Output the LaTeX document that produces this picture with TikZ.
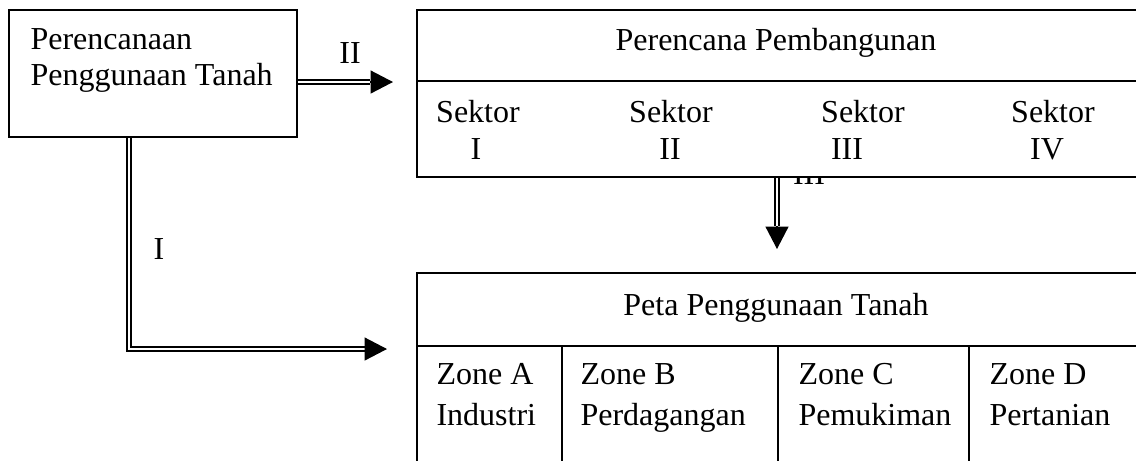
\documentclass[tikz,border=0pt]{standalone}
\usepackage{fontspec}
\setmainfont{Liberation Serif}
\usetikzlibrary{arrows.meta,fit,calc,backgrounds}
\begin{document}
\begin{tikzpicture}[x=0.375pt,y=-0.375pt,
  boxst/.style={draw, line width=0.75pt, fill=white, inner sep=0pt},
  txt/.style={inner sep=0pt, font=\fontsize{12}{14}\selectfont},
  dbl/.style={draw, double, line width=0.7pt, double distance=0.9pt},
  tipst/.style={-{Triangle[length=8.4pt,width=8.6pt]}, line width=0.5pt},
  rule/.style={line width=0.6pt}]
\useasboundingbox (0,0) rectangle (1136,460);
\clip (0,0) rectangle (1136,460);

% left box
\node[boxst, fit={(9,10) (297,137)}] (lb) {};
\node[txt, anchor=base west] (t1) at (30,49) {Perencanaan};
\node[txt, anchor=base west] (t2) at (30,85) {Penggunaan Tanah};

% top right box
\node[boxst, fit={(417,10) (1145,177)}] (pb) {};
\coordinate (pbd) at (417,81);
\draw[rule] (pbd) -- (pbd -| pb.east);
\node[txt, anchor=base] (pbt) at (776,50) {Perencana Pembangunan};
\node[txt, anchor=base] (s1) at (478,122) {Sektor};
\node[txt, anchor=base] (s2) at (671,122) {Sektor};
\node[txt, anchor=base] (s3) at (863,122) {Sektor};
\node[txt, anchor=base] (s4) at (1053,122) {Sektor};
\node[txt, anchor=base] (n1) at (476,159) {I};
\node[txt, anchor=base] (n2) at (670,159) {II};
\node[txt, anchor=base] (n3) at (847,159) {III};
\node[txt, anchor=base] (n4) at (1047,159) {IV};

% bottom right box
\node[boxst, fit={(417,273) (1145,470)}] (zb) {};
\coordinate (zbd) at (417,346);
\draw[rule] (zbd) -- (zbd -| zb.east);
\coordinate (c1) at (562,346);
\coordinate (c2) at (778,346);
\coordinate (c3) at (969,346);
\draw[rule] (c1) -- (c1 |- zb.south);
\draw[rule] (c2) -- (c2 |- zb.south);
\draw[rule] (c3) -- (c3 |- zb.south);
\node[txt, anchor=base] (zbt) at (776,315) {Peta Penggunaan Tanah};
\node[txt, anchor=base west] (za1) at (436,384) {Zone A};
\node[txt, anchor=base west] (za2) at (436,425) {Industri};
\node[txt, anchor=base west] (zb1) at (580,384) {Zone B};
\node[txt, anchor=base west] (zb2) at (580,425) {Perdagangan};
\node[txt, anchor=base west] (zc1) at (798,384) {Zone C};
\node[txt, anchor=base west] (zc2) at (798,425) {Pemukiman};
\node[txt, anchor=base west] (zd1) at (989,384) {Zone D};
\node[txt, anchor=base west] (zd2) at (989,425) {Pertanian};

% connectors (behind the boxes)
\begin{scope}[on background layer]
  \node[txt, anchor=base] (l3) at (809,184) {III};
  \node[txt, anchor=base] (l2) at (350,63) {II};
  \node[txt, anchor=base] (l1) at (159,259) {I};
  % II
  \coordinate (a2b) at (370,82);
  \coordinate (a2t) at (393,82);
  \draw[dbl] (lb.east |- a2b) -- (a2b);
  \draw[tipst] (a2b) -- (a2t);
  % I
  \coordinate (k1) at (129,349);
  \coordinate (a1b) at (365,349);
  \coordinate (a1t) at (387,349);
  \draw[dbl] (lb.south -| k1) -- (k1) -- (a1b);
  \draw[tipst] (a1b) -- (a1t);
  % III
  \coordinate (a3b) at (777,226);
  \coordinate (a3t) at (777,249);
  \draw[dbl] (pb.south -| a3b) -- (a3b);
  \draw[tipst] (a3b) -- (a3t);
\end{scope}
\end{tikzpicture}
\end{document}
